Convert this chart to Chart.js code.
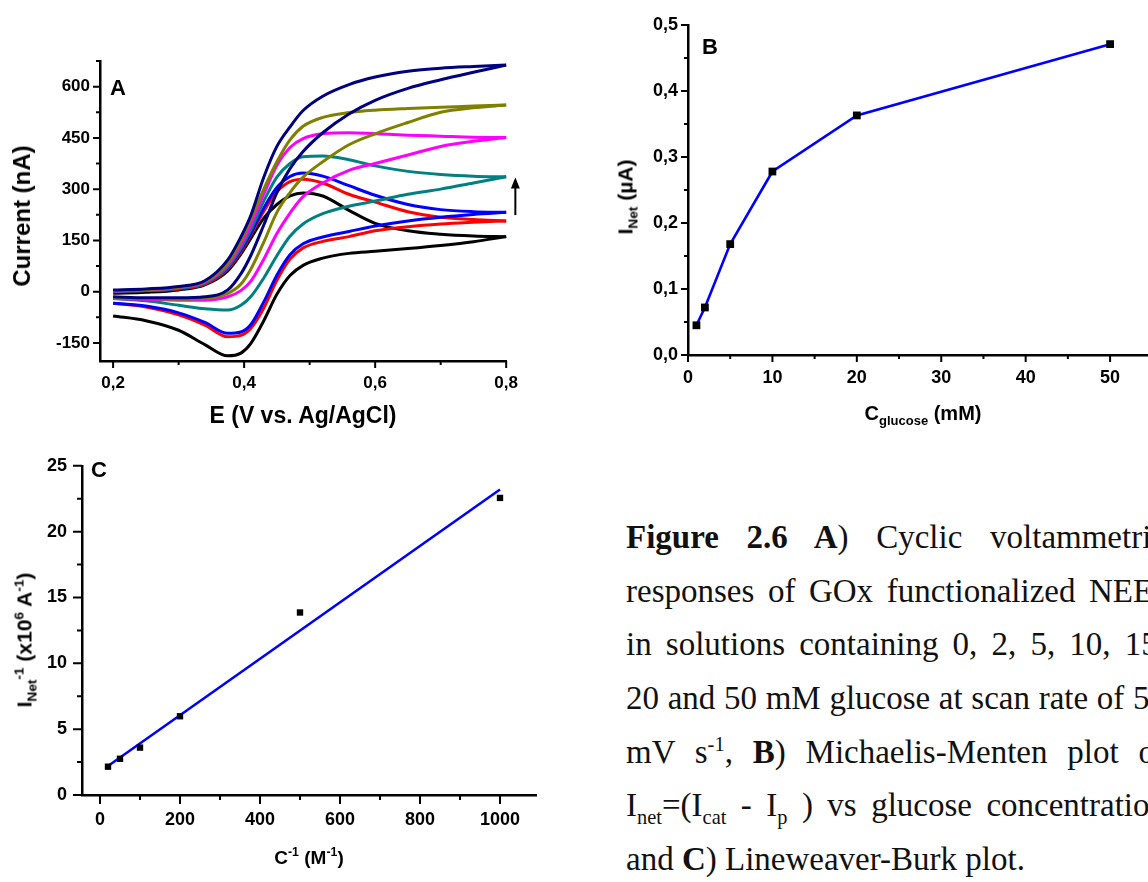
<!DOCTYPE html>
<html>
<head>
<meta charset="utf-8">
<title>Figure 2.6</title>
<script src="https://cdn.jsdelivr.net/npm/chart.js@4.4.1/dist/chart.umd.min.js"></script>
<style>
  html, body { margin: 0; padding: 0; width: 1148px; height: 882px; overflow: hidden; background: #fff; }
  canvas { position: absolute; }
  .lbl { position: absolute; font-family: "Liberation Sans", Arial, sans-serif; font-weight: bold; color: #000;
         white-space: nowrap; transform: translate(-50%, -50%); line-height: 1; }
  .rot { transform: translate(-50%, -50%) rotate(-90deg); }
  .lbl sub, .lbl sup { font-size: 0.65em; line-height: 0; }
  #caption { position: absolute; left: 626px; top: 511px; font-family: "Liberation Serif", "Times New Roman", serif;
             font-size: 33px; color: #111; }
  #caption .ln { width: 540px; height: 53.7px; line-height: 53.7px; text-align: justify; text-align-last: justify; }
  #caption .ln.last { text-align: left; text-align-last: left; }
  #caption sub, #caption sup { font-size: 0.62em; line-height: 0; }
</style>
</head>
<body>

<canvas id="cvA" width="530" height="440" style="left:0;top:0"></canvas>
<canvas id="cvB" width="600" height="440" style="left:600px;top:0"></canvas>
<canvas id="cvC" width="560" height="442" style="left:0;top:440px"></canvas>

<div class="lbl" style="left:118px;top:88px;font-size:22px">A</div>
<div class="lbl" style="left:303px;top:415px;font-size:23px">E (V vs. Ag/AgCl)</div>
<div class="lbl rot" style="left:22px;top:216px;font-size:24px">Current (nA)</div>

<div class="lbl" style="left:710px;top:47px;font-size:22px">B</div>
<div class="lbl" style="left:923px;top:413px;font-size:20px">C<sub>glucose</sub> (mM)</div>
<div class="lbl rot" style="left:625px;top:197px;font-size:21px">I<sub>Net</sub> (µA)</div>

<div class="lbl" style="left:99px;top:470px;font-size:22px">C</div>
<div class="lbl" style="left:309px;top:857px;font-size:19px">C<sup>-1</sup> (M<sup>-1</sup>)</div>
<div class="lbl rot" style="left:24px;top:640px;font-size:21px">I<sub>Net</sub><sup>-1</sup> (x10<sup>6</sup> A<sup>-1</sup>)</div>

<div id="caption">
  <div class="ln"><b>Figure 2.6 A</b>) Cyclic voltammetric</div>
  <div class="ln">responses of GOx functionalized NEEs</div>
  <div class="ln">in solutions containing 0, 2, 5, 10, 15,</div>
  <div class="ln">20 and 50 mM glucose at scan rate of 50</div>
  <div class="ln">mV s<sup>-1</sup>, <b>B</b>) Michaelis-Menten plot of</div>
  <div class="ln">I<sub>net</sub>=(I<sub>cat</sub> - I<sub>p</sub> ) vs glucose concentration</div>
  <div class="ln last">and <b>C</b>) Lineweaver-Burk plot.</div>
</div>

<script>
(function () {
    "use strict";

    // A: cyclic voltammograms, potential grid (V) and currents (nA)
    const E = [0.2, 0.25, 0.3, 0.34, 0.375, 0.395, 0.41, 0.43, 0.45, 0.47, 0.49, 0.52, 0.56, 0.6, 0.65, 0.7, 0.75, 0.8];
    // forward (anodic) scans
    const fwd0  = [-5, -2, 5, 20, 61, 110, 155, 215, 255, 280, 289, 280, 238, 200, 178, 168, 163, 161];
    const fwd2  = [0, 3, 8, 22, 66, 116, 165, 235, 292, 322, 329, 318, 285, 262, 234, 218, 211, 207];
    const fwd5  = [3, 5, 10, 25, 70, 121, 170, 245, 305, 337, 347, 338, 310, 282, 255, 240, 234, 232];
    const fwd10 = [0, 3, 10, 25, 72, 127, 180, 265, 335, 375, 395, 397, 386, 368, 352, 343, 338, 336];
    const fwd15 = [2, 5, 12, 28, 78, 137, 195, 285, 370, 422, 448, 462, 465, 462, 458, 455, 452, 451];
    const fwd20 = [3, 6, 13, 30, 84, 148, 210, 300, 380, 444, 484, 510, 524, 531, 536, 540, 543, 546];
    const fwd50 = [5, 8, 15, 32, 93, 160, 222, 335, 425, 482, 530, 572, 606, 628, 645, 654, 659, 663];
    // reverse (cathodic) scans, same potential grid
    const rev0  = [-71, -85, -113, -155, -188, -180, -152, -85, -8, 47, 77, 98, 112, 118, 126, 135, 146, 161];
    const rev2  = [-34, -45, -68, -98, -132, -128, -108, -48, 33, 95, 128, 147, 161, 178, 190, 198, 203, 207];
    const rev5  = [-34, -42, -62, -90, -122, -118, -97, -30, 48, 108, 140, 160, 176, 192, 207, 218, 226, 232];
    const rev10 = [-20, -27, -40, -50, -54, -40, -15, 40, 105, 162, 198, 228, 250, 265, 285, 300, 318, 336];
    const rev15 = [-20, -22, -25, -25, -15, 3, 30, 95, 170, 230, 278, 318, 355, 375, 400, 425, 440, 451];
    const rev20 = [-18, -20, -22, -20, -5, 22, 65, 145, 232, 290, 335, 380, 430, 462, 495, 525, 538, 546];
    const rev50 = [-15, -18, -18, -15, 5, 52, 105, 195, 290, 360, 410, 465, 520, 560, 595, 620, 642, 663];
    const glucoseLevels = ["50 mM", "20 mM", "15 mM", "10 mM", "5 mM", "2 mM", "0 mM"];

    // B: Michaelis-Menten
    const cGlucose = [1, 2, 5, 10, 20, 50];
    const iNet = [0.045, 0.072, 0.168, 0.278, 0.363, 0.471];

    // C: Lineweaver-Burk
    const invC = [20, 50, 100, 200, 500, 1000];
    const invI = [2.15, 2.75, 3.6, 5.98, 13.86, 22.56];
    const fitX = [20, 1000];
    const fitY = [2.2, 23.2];

    // tick values
    const aTicksX = [0.2, 0.4, 0.6, 0.8], aMinorX = [0.3, 0.5, 0.7];
    const aTicksY = [-150, 0, 150, 300, 450, 600], aMinorY = [-75, 75, 225, 375, 525, 675];
    const bTicksX = [0, 10, 20, 30, 40, 50], bMinorX = [5, 15, 25, 35, 45, 55];
    const bTicksY = [0, 0.1, 0.2, 0.3, 0.4, 0.5], bMinorY = [0.05, 0.15, 0.25, 0.35, 0.45];
    const cTicksX = [0, 200, 400, 600, 800, 1000], cMinorX = [100, 300, 500, 700, 900];
    const cTicksY = [0, 5, 10, 15, 20, 25], cMinorY = [2.5, 7.5, 12.5, 17.5, 22.5];

    const FONT = "'Liberation Sans', Arial, sans-serif";
    const comma = v => v.toFixed(1).replace(".", ",");

    // outward major/minor tick marks, Origin style
    const axisMarks = {
        id: "axisMarks",
        afterDraw(chart, args, o) {
            const { ctx, chartArea: a } = chart;
            ctx.save();
            ctx.strokeStyle = "#000";
            ctx.lineWidth = 2;
            ctx.beginPath();
            const mark = (scale, vals, len) => vals.forEach(v => {
                if (v < scale.min || v > scale.max) return;
                const p = scale.getPixelForValue(v);
                if (scale.axis === "x") { ctx.moveTo(p, a.bottom); ctx.lineTo(p, a.bottom + len); }
                else { ctx.moveTo(a.left, p); ctx.lineTo(a.left - len, p); }
            });
            mark(chart.scales.x, o.xMajor, o.major);
            mark(chart.scales.x, o.xMinor, o.minor);
            mark(chart.scales.y, o.yMajor, o.major);
            mark(chart.scales.y, o.yMinor, o.minor);
            ctx.stroke();
            ctx.restore();
        }
    };

    // the upward arrow in panel A
    const arrowMark = {
        id: "arrowMark",
        afterDraw(chart, args, o) {
            if (!o || o.x === undefined) return;
            const { ctx } = chart;
            const x = chart.scales.x.getPixelForValue(o.x);
            const y0 = chart.scales.y.getPixelForValue(o.from);
            const y1 = chart.scales.y.getPixelForValue(o.to);
            ctx.save();
            ctx.strokeStyle = "#000";
            ctx.fillStyle = "#000";
            ctx.lineWidth = 2;
            ctx.beginPath();
            ctx.moveTo(x, y0);
            ctx.lineTo(x, y1 + 8);
            ctx.stroke();
            ctx.beginPath();
            ctx.moveTo(x, y1);
            ctx.lineTo(x - 4.5, y1 + 11);
            ctx.lineTo(x + 4.5, y1 + 11);
            ctx.closePath();
            ctx.fill();
            ctx.restore();
        }
    };

    function axis(min, max, ticks, o) {
        return {
            type: "linear",
            min: min,
            max: max,
            afterBuildTicks: s => { s.ticks = ticks.map(v => ({ value: v })); },
            afterFit: s => {
                if (o.width) s.width = o.width;
                if (o.height) s.height = o.height;
            },
            grid: { display: false, drawTicks: false },
            border: { display: true, color: "#000", width: 2.5 },
            ticks: {
                color: "#000",
                autoSkip: false,
                maxRotation: 0,
                padding: o.pad,
                font: { family: FONT, size: o.size, weight: "bold" },
                callback: v => (o.fmt ? o.fmt(v) : String(v))
            }
        };
    }

    function base(padding, marks, scales, extra) {
        return {
            responsive: false,
            animation: false,
            devicePixelRatio: 1,
            layout: { padding: padding },
            plugins: Object.assign({
                legend: { display: false },
                tooltip: { enabled: false },
                axisMarks: marks
            }, extra || {}),
            scales: scales
        };
    }

    // Panel A: each loop drawn as its forward and reverse branch
    const cvBranches = [[fwd50, rev50], [fwd20, rev20], [fwd15, rev15], [fwd10, rev10],
                        [fwd5, rev5], [fwd2, rev2], [fwd0, rev0]];
    const cvColors = ["#000080", "#808000", "#ff00ff", "#008080", "#0000ff", "#ff0000", "#000000"];
    const cvSets = [];
    cvBranches.forEach((pair, i) => {
        pair.forEach((branch, k) => {
            cvSets.push({
                label: glucoseLevels[i] + (k ? " reverse" : " forward"),
                data: E.map((e, j) => ({ x: e, y: branch[j] })),
                borderColor: cvColors[i],
                borderWidth: 3,
                pointRadius: 0,
                cubicInterpolationMode: "monotone",
                fill: false,
                clip: false
            });
        });
    });

    new Chart(document.getElementById("cvA").getContext("2d"), {
        type: "line",
        data: { datasets: cvSets },
        options: base(
            { left: 0, right: 23, top: 61, bottom: 39 },
            { xMajor: aTicksX, xMinor: aMinorX, yMajor: aTicksY, yMinor: aMinorY, major: 7, minor: 4 },
            {
                x: axis(0.18, 0.8, aTicksX, { height: 40, pad: 12, size: 17, fmt: comma }),
                y: axis(-203, 675, aTicksY, { width: 100, pad: 10, size: 17 })
            },
            { arrowMark: { x: 0.814, from: 224, to: 334 } }
        ),
        plugins: [axisMarks, arrowMark]
    });

    // Panel B
    new Chart(document.getElementById("cvB").getContext("2d"), {
        type: "line",
        data: {
            datasets: [{
                label: "I net",
                data: cGlucose.map((c, i) => ({ x: c, y: iNet[i] })),
                borderColor: "#0000ff",
                borderWidth: 2.6,
                tension: 0,
                pointStyle: "rect",
                pointRadius: 5.5,
                pointBackgroundColor: "#000",
                pointBorderColor: "#000",
                pointBorderWidth: 0,
                clip: false
            }]
        },
        options: base(
            { left: 0, right: 1, top: 25, bottom: 45 },
            { xMajor: bTicksX.concat([60]), xMinor: bMinorX, yMajor: bTicksY, yMinor: bMinorY, major: 7, minor: 4 },
            {
                x: axis(0, 60, bTicksX, { height: 40, pad: 12, size: 18 }),
                y: axis(0, 0.5, bTicksY, { width: 88, pad: 10, size: 18, fmt: comma })
            }
        ),
        plugins: [axisMarks]
    });

    // Panel C
    new Chart(document.getElementById("cvC").getContext("2d"), {
        type: "line",
        data: {
            datasets: [{
                label: "data",
                data: invC.map((c, i) => ({ x: c, y: invI[i] })),
                showLine: false,
                pointStyle: "rect",
                pointRadius: 4.5,
                pointBackgroundColor: "#000",
                pointBorderColor: "#000",
                pointBorderWidth: 0,
                clip: false
            }, {
                label: "fit",
                data: fitX.map((c, i) => ({ x: c, y: fitY[i] })),
                borderColor: "#0000ff",
                borderWidth: 2.6,
                pointRadius: 0,
                tension: 0,
                clip: false
            }]
        },
        options: base(
            { left: 0, right: 24, top: 14, bottom: 47 },
            { xMajor: cTicksX, xMinor: cMinorX, yMajor: cTicksY, yMinor: cMinorY, major: 9, minor: 5 },
            {
                x: axis(-45, 1090, cTicksX, { height: 40, pad: 14, size: 18 }),
                y: axis(0, 25, cTicksY, { width: 82, pad: 15, size: 18 })
            }
        ),
        plugins: [axisMarks]
    });
})();
</script>
</body>
</html>
